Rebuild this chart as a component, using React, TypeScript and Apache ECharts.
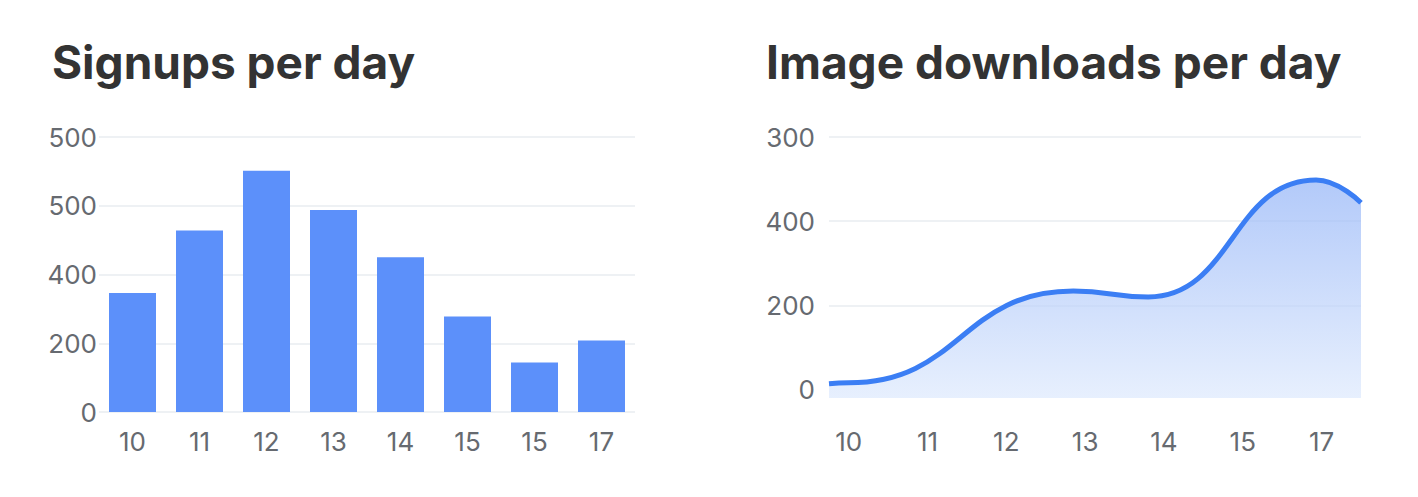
import React, { useEffect, useRef } from 'react';
import * as echarts from 'echarts';

// left chart: signups (bars), values on a 0..400 scale, labels as printed
const signupDays = ['10', '11', '12', '13', '14', '15', '15', '17'];
const signupValues = [173, 264, 351, 294, 225, 139, 72, 104];
const signupTickLabels = ['0', '200', '400', '500', '500'];

// right chart: image downloads, turning points of the curve
const downloadX = [9.75, 10, 12.85, 13.8, 15.93, 16.5];
const downloadValues = [7, 8, 117, 110, 249, 222];
const downloadDayTicks = [10, 11, 12, 13, 14, 15, 16];
const downloadDayLabels = ['10', '11', '12', '13', '14', '15', '17'];
const downloadTickValues = [0, 100, 200, 300];
const downloadTickLabels = ['0', '200', '400', '300'];
const downloadGridValues = [100, 200, 300];

const FONT = 'Inter, "Noto Sans", sans-serif';
const LABEL_COLOR = '#666a70';
const GRID_LINE = '#e9ecf1';

const titleStyle = {
	fontSize: 46,
	fontWeight: 700,
	color: '#333333',
	fontFamily: FONT,
	letterSpacing: -1,
};

const App: React.FC = () => {
	const chartRef = useRef<HTMLDivElement | null>(null);

	useEffect(() => {
		document.body.style.margin = '0';
		if (!chartRef.current) return;
		const chart = echarts.init(chartRef.current, undefined, { renderer: 'svg' });

		const option: any = {
			animation: false,
			backgroundColor: '#ffffff',
			textStyle: { fontFamily: FONT },
			title: [
				{ text: 'Signups per day', left: 52, top: 39, padding: 0, textStyle: titleStyle },
				{ text: 'Image downloads per day', left: 766, top: 39, padding: 0, textStyle: titleStyle },
			],
			grid: [
				{ left: 99, top: 137, width: 536, height: 275 },
				{ left: 829, top: 137, width: 532, height: 261 },
			],
			xAxis: [
				{
					type: 'category',
					gridIndex: 0,
					data: signupDays,
					axisLine: { show: false },
					axisTick: { show: false },
					axisLabel: { color: LABEL_COLOR, fontSize: 26, margin: 16 },
				},
				{
					type: 'value',
					gridIndex: 1,
					min: 9.75,
					max: 16.5,
					axisLine: { show: false },
					axisTick: { show: false, customValues: downloadDayTicks },
					splitLine: { show: false },
					axisLabel: {
						color: LABEL_COLOR,
						fontSize: 26,
						margin: 30,
						customValues: downloadDayTicks,
						formatter: (v: number) => downloadDayLabels[Math.round(v) - 10] ?? '',
					},
				},
			],
			yAxis: [
				{
					type: 'value',
					gridIndex: 0,
					min: 0,
					max: 400,
					interval: 100,
					axisLine: { show: false },
					axisTick: { show: false },
					splitLine: { lineStyle: { color: GRID_LINE, width: 1.5 } },
					axisLabel: {
						color: LABEL_COLOR,
						fontSize: 26,
						margin: 2,
						formatter: (v: number) => signupTickLabels[Math.round(v / 100)] ?? '',
					},
				},
				{
					type: 'value',
					gridIndex: 1,
					min: -10,
					max: 300,
					axisLine: { show: false },
					axisTick: { show: false, customValues: downloadGridValues },
					splitLine: { lineStyle: { color: GRID_LINE, width: 1.5 } },
					axisLabel: {
						color: LABEL_COLOR,
						fontSize: 26,
						margin: 14,
						customValues: downloadTickValues,
						formatter: (v: number) => downloadTickLabels[Math.round(v / 100)] ?? '',
					},
				},
			],
			series: [
				{
					type: 'bar',
					xAxisIndex: 0,
					yAxisIndex: 0,
					data: signupValues,
					barWidth: 47,
					itemStyle: { color: '#5c90fa' },
				},
				{
					type: 'line',
					xAxisIndex: 1,
					yAxisIndex: 1,
					data: downloadX.map((x, i) => [x, downloadValues[i]]),
					smooth: 0.5,
					smoothMonotone: 'x',
					showSymbol: false,
					lineStyle: { color: '#3b7ef4', width: 5 },
					areaStyle: {
						origin: 'start',
						color: new echarts.graphic.LinearGradient(0, 0, 0, 1, [
							{ offset: 0, color: '#92b3f7' },
							{ offset: 1, color: '#dde9fd' },
						]),
					},
				},
			],
		};

		chart.setOption(option);

		return () => {
			chart.dispose();
		};
	}, []);

	return <div ref={chartRef} style={{ width: '1418px', height: '497px' }} />;
};

export default App;
